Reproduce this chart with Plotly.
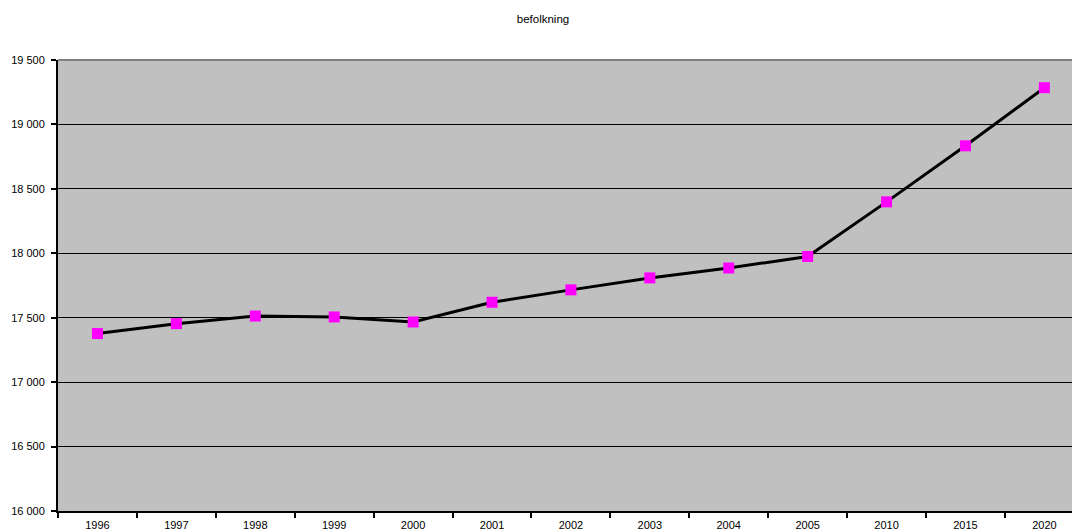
import plotly.graph_objects as go

# Population by year
years = ["1996", "1997", "1998", "1999", "2000", "2001", "2002",
         "2003", "2004", "2005", "2010", "2015", "2020"]
befolkning = [17377, 17454, 17513, 17506, 17467, 17620, 17716,
              17809, 17886, 17975, 18399, 18834, 19285]

y_ticks = [16000, 16500, 17000, 17500, 18000, 18500, 19000, 19500]

fig = go.Figure()
fig.add_trace(go.Scatter(
    x=years,
    y=befolkning,
    mode="lines+markers",
    line=dict(color="black", width=3),
    marker=dict(symbol="square", size=11, color="#FF00FF",
                line=dict(width=0)),
    showlegend=False,
    cliponaxis=False,
))

font = "Liberation Sans, Arial, sans-serif"

fig.update_layout(
    width=1072,
    height=531,
    margin=dict(l=58, r=0, t=60, b=20),
    paper_bgcolor="white",
    plot_bgcolor="#C0C0C0",
    separators=", ",
    font=dict(family=font, size=11, color="black"),
    title=dict(
        text="befolkning",
        font=dict(family=font, size=11.5, color="black"),
        xref="container", x=543 / 1072, xanchor="center",
        yref="container", y=1 - 19 / 531, yanchor="middle",
    ),
    xaxis=dict(
        type="category",
        range=[-0.5, 12.35],
        tickson="boundaries",
        ticks="outside",
        ticklen=5,
        tickwidth=1.5,
        tickcolor="black",
        ticklabelstandoff=3,
        showgrid=False,
        showline=True,
        linecolor="black",
        linewidth=2,
        zeroline=False,
        tickfont=dict(family=font, size=11, color="black"),
    ),
    yaxis=dict(
        range=[16000, 19500],
        tickvals=y_ticks,
        tickformat=",d",
        ticks="outside",
        ticklen=5,
        tickwidth=1.5,
        tickcolor="black",
        ticklabelstandoff=4,
        showgrid=True,
        gridcolor="black",
        gridwidth=1,
        showline=True,
        linecolor="black",
        linewidth=2,
        zeroline=False,
        tickfont=dict(family=font, size=11, color="black"),
    ),
)

# Gray top edge of the plot area
fig.add_shape(type="line", xref="paper", yref="paper",
              x0=0, x1=1, y0=1, y1=1,
              line=dict(color="#808080", width=2), layer="above")

fig.write_html("out.html")
